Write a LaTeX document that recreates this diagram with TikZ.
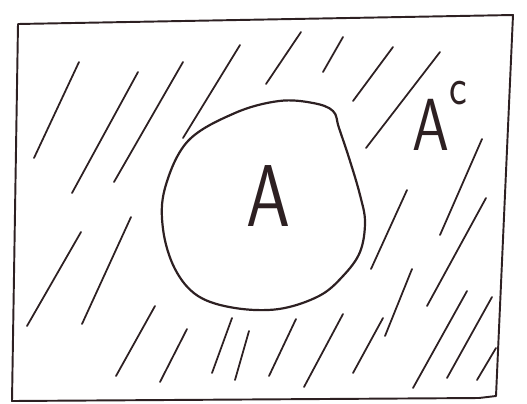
\documentclass[tikz,border=0pt]{standalone}
\usepackage{tikz}
\usetikzlibrary{positioning}
\definecolor{pen}{RGB}{45,32,34}
\tikzset{
  every picture/.style={line width=0.6pt},
  frame/.style={draw=pen,line width=1.1pt,line join=round},
  blob/.style={draw=pen,line width=1.25pt},
  hatch/.style={draw=pen,line width=1pt,line cap=round},
  lbl/.style={text=pen,inner sep=0pt,font=\sffamily},
}

\begin{document}
\begin{tikzpicture}[x=0.02cm,y=-0.02cm]
\useasboundingbox (0,0) rectangle (527,403);
% universal set
\draw[frame] (18,24) -- (513,15) -- (496,396) -- (479,398) -- (12,401) -- cycle;
% hatching of the complement
\foreach \xa/\ya/\xb/\yb in {34/158/79/62, 72/193/138/72, 114/182/183/62, 183/138/240/45,
  266/84/301/32, 323/72/343/37, 353/101/393/47, 366/148/440/52,
  371/269/407/190, 440/235/482/139, 427/306/486/198,
  27/326/81/232, 82/324/131/217,
  116/376/155/306, 160/382/187/329, 212/373/232/318, 235/380/249/331,
  269/376/296/319, 304/387/343/314, 353/373/383/318, 385/336/412/269,
  413/388/467/291, 447/378/492/297, 477/380/496/348}
  \draw[hatch] (\xa,\ya) -- (\xb,\yb);
% the set A
\draw[blob] plot[smooth cycle,tension=0.6] coordinates {(165,188) (188,141) (235,113) (279,101)
  (313,103) (333,111) (339,128) (350,161) (360,195) (365,222) (360,252) (343,276)
  (319,296) (279,309) (235,308) (198,296) (175,269) (163,229)};
\node[lbl,xscale=0.8,font=\sffamily\fontsize{50}{50}\selectfont] (setA) at (268,196) {A};
\node[lbl,xscale=0.8,font=\sffamily\fontsize{42}{42}\selectfont] (compA) at (440,116)
  {A\raisebox{0.62em}{\fontsize{30}{30}\selectfont c}};
\end{tikzpicture}
\end{document}
